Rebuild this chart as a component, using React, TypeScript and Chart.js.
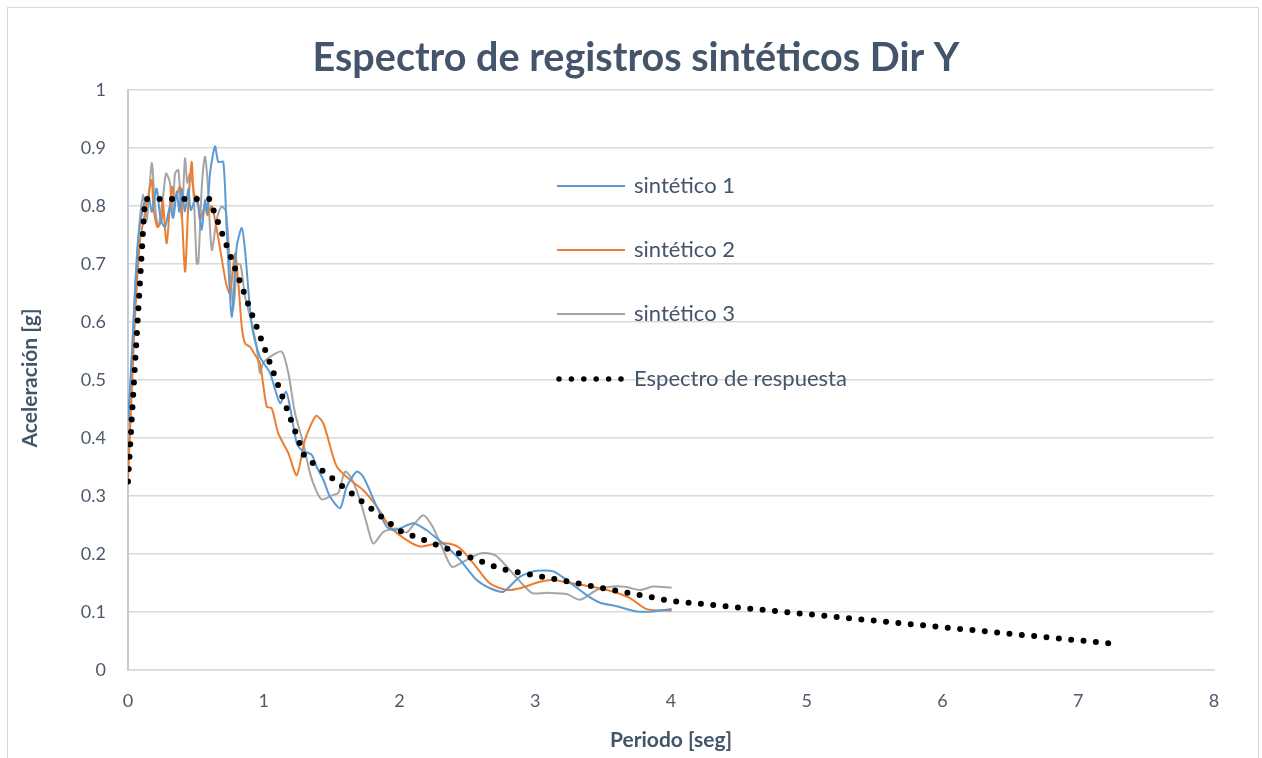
import React, { useEffect, useRef } from "react";
import { Chart, registerables } from "chart.js";

Chart.register(...registerables);

const TITLE = "Espectro de registros sintéticos Dir Y";
const X_TITLE = "Periodo [seg]";
const Y_TITLE = "Aceleración [g]";
const SERIES_NAMES = ["sintético 1", "sintético 2", "sintético 3", "Espectro de respuesta"];
const X_TICKS = [0, 1, 2, 3, 4, 5, 6, 7, 8];
const Y_TICKS = [0, 0.1, 0.2, 0.3, 0.4, 0.5, 0.6, 0.7, 0.8, 0.9, 1];

const periodo1 = [
  0.0, 0.037, 0.074, 0.113, 0.15, 0.177, 0.211, 0.241, 0.273, 0.309, 0.334, 0.359, 0.378, 0.396, 0.42, 0.444,
  0.462, 0.494, 0.518, 0.543, 0.567, 0.584, 0.604, 0.641, 0.665, 0.702, 0.727, 0.764, 0.801, 0.838, 0.862,
  0.899, 0.923, 0.972, 1.046, 1.12, 1.164, 1.193, 1.243, 1.28, 1.353, 1.39, 1.439, 1.488, 1.562, 1.611, 1.685,
  1.733, 1.832, 1.906, 1.967, 2.102, 2.2, 2.274, 2.323, 2.446, 2.569, 2.667, 2.765, 2.888, 3.011, 3.133,
  3.232, 3.379, 3.477, 3.6, 3.747, 3.87, 4.005,
];
const sintetico1 = [
  0.43, 0.58, 0.74, 0.8, 0.816, 0.79, 0.83, 0.776, 0.764, 0.799, 0.78, 0.825, 0.79, 0.83, 0.79, 0.83,
  0.793, 0.81, 0.8, 0.759, 0.81, 0.79, 0.856, 0.903, 0.876, 0.876, 0.759, 0.609, 0.73, 0.762, 0.724,
  0.621, 0.58, 0.54, 0.512, 0.46, 0.48, 0.454, 0.391, 0.379, 0.371, 0.35, 0.328, 0.299, 0.279, 0.316, 0.342,
  0.333, 0.282, 0.247, 0.241, 0.253, 0.241, 0.227, 0.218, 0.19, 0.155, 0.141, 0.135, 0.161, 0.171, 0.17,
  0.155, 0.129, 0.116, 0.11, 0.101, 0.101, 0.105,
];

const periodo2 = [
  0.0, 0.022, 0.052, 0.088, 0.125, 0.175, 0.186, 0.216, 0.248, 0.256, 0.285, 0.322, 0.346, 0.383, 0.42, 0.444,
  0.469, 0.486, 0.511, 0.53, 0.567, 0.584, 0.617, 0.641, 0.678, 0.722, 0.751, 0.788, 0.813, 0.838, 0.862,
  0.899, 0.936, 0.972, 1.022, 1.059, 1.107, 1.181, 1.243, 1.304, 1.385, 1.439, 1.537, 1.635, 1.733, 1.832,
  1.93, 2.053, 2.151, 2.249, 2.359, 2.446, 2.544, 2.667, 2.79, 2.888, 3.035, 3.133, 3.28, 3.428, 3.575,
  3.698, 3.821, 4.005,
];
const sintetico2 = [
  0.33, 0.45, 0.609, 0.74, 0.787, 0.845, 0.8, 0.764, 0.775, 0.81, 0.736, 0.833, 0.81, 0.833, 0.687, 0.8,
  0.876, 0.819, 0.816, 0.776, 0.8, 0.784, 0.8, 0.776, 0.727, 0.667, 0.649, 0.718, 0.667, 0.592, 0.563,
  0.557, 0.543, 0.529, 0.454, 0.451, 0.408, 0.374, 0.336, 0.397, 0.438, 0.425, 0.351, 0.328, 0.31, 0.282,
  0.247, 0.224, 0.213, 0.217, 0.218, 0.21, 0.184, 0.149, 0.138, 0.141, 0.152, 0.155, 0.149, 0.143, 0.135,
  0.124, 0.105, 0.102,
];

const periodo3 = [
  0.0, 0.022, 0.052, 0.088, 0.113, 0.138, 0.175, 0.199, 0.223, 0.26, 0.28, 0.309, 0.329, 0.346, 0.371, 0.396,
  0.42, 0.437, 0.457, 0.481, 0.506, 0.518, 0.543, 0.567, 0.584, 0.617, 0.653, 0.69, 0.722, 0.751, 0.776,
  0.805, 0.83, 0.862, 0.911, 0.948, 0.972, 0.997, 1.046, 1.132, 1.181, 1.23, 1.291, 1.341, 1.385, 1.427,
  1.512, 1.549, 1.599, 1.648, 1.709, 1.758, 1.807, 1.881, 1.979, 2.053, 2.102, 2.175, 2.237, 2.298, 2.385,
  2.458, 2.593, 2.704, 2.814, 2.974, 3.084, 3.232, 3.33, 3.453, 3.575, 3.674, 3.772, 3.87, 4.005,
];
const sintetico3 = [
  0.33, 0.5, 0.66, 0.78, 0.819, 0.776, 0.874, 0.8, 0.764, 0.82, 0.856, 0.84, 0.78, 0.856, 0.862, 0.78,
  0.882, 0.84, 0.856, 0.83, 0.701, 0.701, 0.83, 0.885, 0.85, 0.724, 0.776, 0.799, 0.79, 0.7, 0.621,
  0.7, 0.698, 0.644, 0.598, 0.557, 0.512, 0.53, 0.54, 0.549, 0.512, 0.443, 0.391, 0.339, 0.31, 0.294,
  0.302, 0.305, 0.342, 0.33, 0.293, 0.253, 0.218, 0.238, 0.244, 0.237, 0.25, 0.267, 0.25, 0.22, 0.178,
  0.185, 0.201, 0.198, 0.172, 0.133, 0.133, 0.131, 0.121, 0.138, 0.144, 0.143, 0.138, 0.144, 0.142,
];

const periodoEspectro = [0, 0.125, 0.6, 1.3, 2.0, 2.75, 4.0, 7.27];
const espectro = [0.325, 0.812, 0.812, 0.368, 0.24, 0.174, 0.119, 0.045];

const COLORS = ["#5B9BD5", "#ED7D31", "#A5A5A5", "#000000"];
const TEXT_COLOR = "#44546A";
const TICK_COLOR = "#4D5A6C";
const FONT = "Lato";

const toPoints = (xs: number[], ys: number[]) => xs.map((x, i) => ({ x, y: ys[i] }));

const overlayPlugin = {
  id: "overlay",
  afterDraw(chart: any) {
    const ctx = chart.ctx as CanvasRenderingContext2D;
    ctx.save();
    ctx.fillStyle = TEXT_COLOR;
    ctx.textAlign = "center";
    ctx.textBaseline = "middle";
    ctx.font = `bold 39.5px ${FONT}`;
    ctx.fillText(TITLE, 636, 58);
    ctx.font = `bold 21px ${FONT}`;
    ctx.fillText(X_TITLE, 671, 740);
    ctx.save();
    ctx.translate(30, 378);
    ctx.rotate(-Math.PI / 2);
    ctx.fillText(Y_TITLE, 0, 0);
    ctx.restore();

    // legend
    const rows = [186, 250, 314, 379];
    ctx.textAlign = "left";
    ctx.font = `22px ${FONT}`;
    rows.forEach((y, i) => {
      ctx.save();
      if (i < 3) {
        ctx.strokeStyle = COLORS[i];
        ctx.lineWidth = 2;
        ctx.beginPath();
        ctx.moveTo(557, y);
        ctx.lineTo(625, y);
        ctx.stroke();
      } else {
        ctx.strokeStyle = "#000";
        ctx.lineWidth = 5.5;
        ctx.lineCap = "round";
        ctx.setLineDash([0, 12.4]);
        ctx.beginPath();
        ctx.moveTo(559, y);
        ctx.lineTo(624, y);
        ctx.stroke();
      }
      ctx.restore();
      ctx.fillStyle = TEXT_COLOR;
      ctx.fillText(SERIES_NAMES[i], 634, y);
    });
    ctx.restore();
  },
};

export default function App() {
  const ref = useRef<HTMLCanvasElement | null>(null);

  useEffect(() => {
    if (!ref.current) return;
    const lineDs = (i: number, xs: number[], ys: number[]) => ({
      label: SERIES_NAMES[i],
      data: toPoints(xs, ys),
      borderColor: COLORS[i],
      backgroundColor: COLORS[i],
      borderWidth: 2,
      pointRadius: 0,
      tension: 0.25,
      fill: false,
      order: 1,
    });
    const chart = new Chart(ref.current, {
      type: "line",
      data: {
        datasets: [
          lineDs(0, periodo1, sintetico1),
          lineDs(1, periodo2, sintetico2),
          lineDs(2, periodo3, sintetico3),
          {
            label: SERIES_NAMES[3],
            data: toPoints(periodoEspectro, espectro),
            borderColor: "#000000",
            backgroundColor: "#000000",
            borderWidth: 6,
            borderDash: [0, 12.4],
            borderCapStyle: "round",
            pointRadius: 0,
            tension: 0,
            fill: false,
            order: 0,
          } as any,
        ],
      },
      options: {
        responsive: false,
        animation: false,
        devicePixelRatio: 1,
        layout: { padding: { top: 90, right: 48, left: 0, bottom: 0 } },
        plugins: {
          legend: { display: false },
          title: { display: false },
          tooltip: { enabled: false },
        },
        scales: {
          x: {
            type: "linear",
            min: X_TICKS[0],
            max: X_TICKS[X_TICKS.length - 1],
            afterFit: (s: any) => {
              s.height = 88;
            },
            afterBuildTicks: (s: any) => {
              s.ticks = X_TICKS.map((v) => ({ value: v }));
            },
            grid: { display: false, drawTicks: false },
            border: { display: true, color: "#D9D9D9", width: 1.5 },
            ticks: {
              padding: 20,
              color: TICK_COLOR,
              font: { family: FONT, size: 18 },
              callback: (v: any) => String(v),
            },
          },
          y: {
            type: "linear",
            min: 0,
            max: 1,
            afterFit: (s: any) => {
              s.width = 128;
            },
            afterBuildTicks: (s: any) => {
              s.ticks = Y_TICKS.map((v) => ({ value: v }));
            },
            grid: { color: "#D9D9D9", lineWidth: 1.5, drawTicks: false },
            border: { display: true, color: "#C5CCD9", width: 2 },
            ticks: {
              padding: 22,
              color: TICK_COLOR,
              font: { family: FONT, size: 18 },
              callback: (v: any) => String(Math.round(v * 10) / 10),
            },
          },
        },
      },
      plugins: [overlayPlugin],
    });
    return () => chart.destroy();
  }, []);

  return (
    <div style={{ position: "fixed", left: 0, top: 0, width: 1262, height: 758, background: "#fff", overflow: "hidden" }}>
      <div
        style={{
          position: "absolute",
          left: 7,
          top: 7,
          width: 1252,
          height: 800,
          border: "1px solid #D9D9D9",
          boxSizing: "border-box",
        }}
      />
      <canvas ref={ref} width={1262} height={758} style={{ position: "absolute", left: 0, top: 0 }} />
    </div>
  );
}
